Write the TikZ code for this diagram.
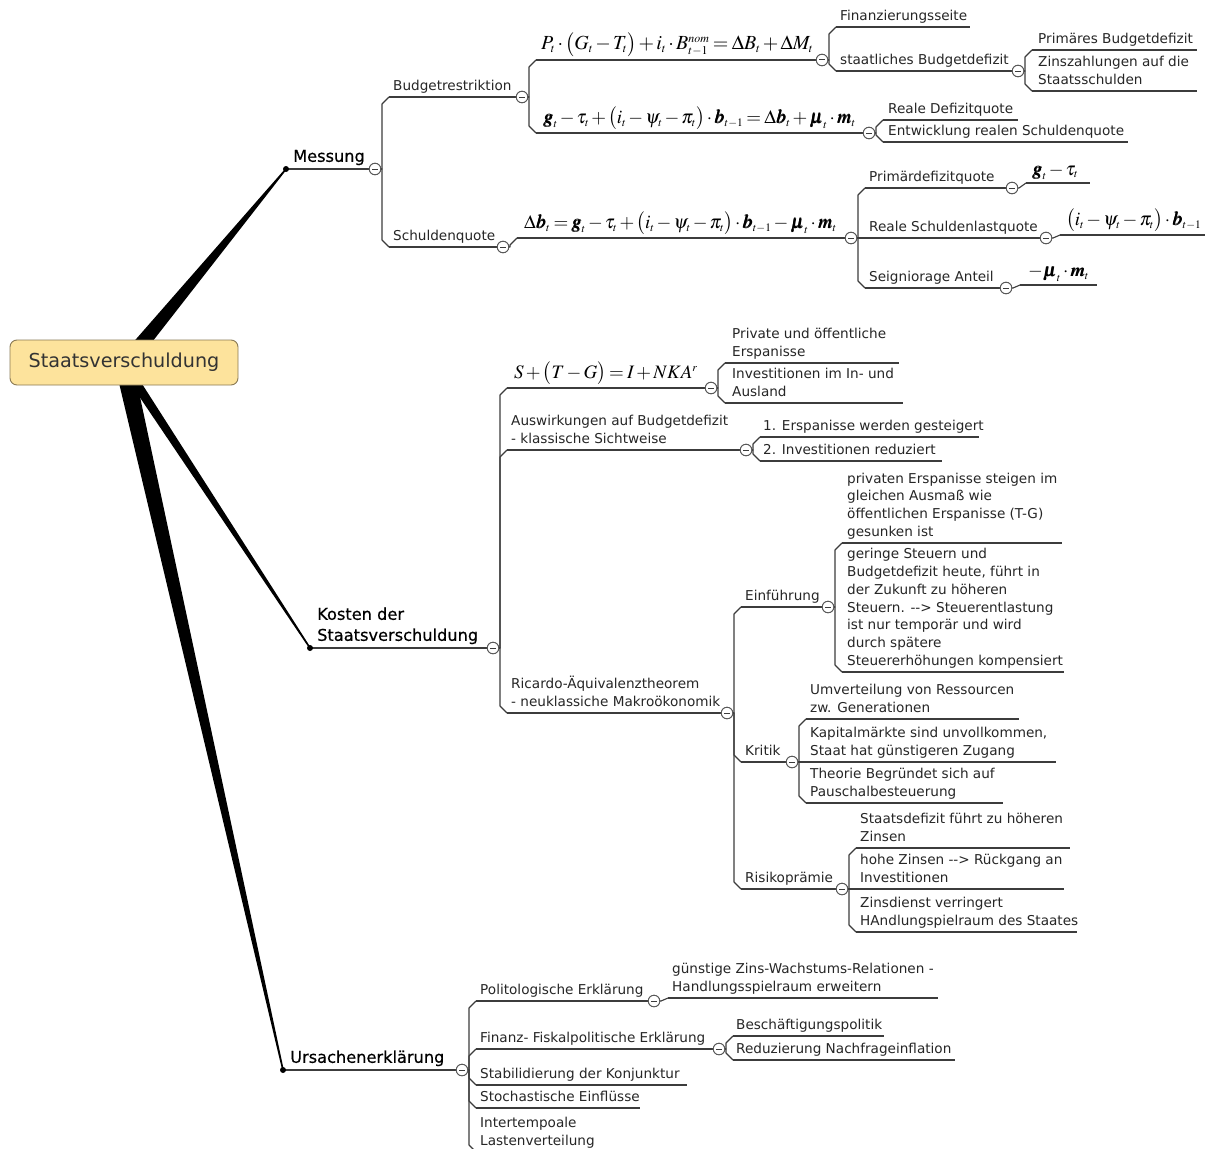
\documentclass[tikz,border=0pt]{standalone}
\usepackage{amsmath}
\usepackage{mathptmx}
\usepackage{bm}
\usepackage[no-math]{fontspec}
\setmainfont{DejaVu Sans}
\newfontfamily\bigfont[FakeBold=0.5]{DejaVu Sans}
\usetikzlibrary{calc}
\definecolor{ink}{HTML}{262626}
\definecolor{linec}{HTML}{3C3C3C}
\definecolor{rootfill}{HTML}{FDE39C}
\definecolor{rootdraw}{HTML}{8A7A55}
\newcommand\tightmath{\medmuskip=2mu\relax\thickmuskip=3mu\relax}
\tikzset{
 uline/.style={draw=linec, line width=1.1pt},
 conn/.style={draw=linec, line width=1.1pt, line join=round},
 txt/.style={font=\fontsize{13.6}{17.8}\selectfont, text=ink, inner sep=0pt, anchor=south west, align=left, text depth=3.3pt},
 bigtxt/.style={font=\bigfont\fontsize{16.2}{21}\selectfont, text=black, inner sep=0pt, anchor=south west, align=left, text depth=4pt},
 fml/.style={font={\fontsize{19}{19}\selectfont\tightmath}, text=black, inner sep=0pt, anchor=south west},
 fmlbig/.style={fml, font={\fontsize{20}{20}\selectfont\tightmath}},
 knob/.style={circle, draw=linec!85, fill=white, line width=0.9pt, minimum size=11.5pt, inner sep=0pt,
   path picture={\draw[linec, line width=1pt] ([xshift=-2.8pt]path picture bounding box.center) -- ([xshift=2.8pt]path picture bounding box.center);}},
 rootbox/.style={draw=rootdraw, fill=rootfill, rounded corners=7pt, line width=0.9pt, minimum width=228pt, minimum height=45pt, inner sep=0pt, font=\fontsize{19.2}{22}\selectfont, text=black!80},
}
\newcommand\ssub[1]{_{\scriptscriptstyle #1}}
\newcommand\topic[7][txt]{%
 \coordinate (#2-s) at (#3,#4);
 \coordinate (#2-e) at (#5,#4);
 \draw[uline] (#2-s) -- (#2-e);
 \node[#1] (#2) at (#6,#4-3) {#7};}
\newcommand\knob[1]{\path (#1-e) ++(6,0) node[knob] (#1-k) {};}
\newcommand\tlink[2]{\draw[conn] let \p1=(#1-k.east), \p2=(#2-s), \n1={\x2-7pt},
  \n2={min(7pt,abs(\y2-\y1))*sign(\y2-\y1)}, \n3={\y2-(\n2)} in
  (\p1) -- (\n1,\y1) -- (\n1,\n3) -- (\p2);}
\newcommand\wedgeto[3]{\fill[black] let \p1=(#1), \p2=(#2), \n1={atan2(\y2-\y1,\x2-\x1)} in
  ($(\p1)+(\n1+90:#3)$) -- ($(\p2)+(\n1+90:0.8pt)$) -- ($(\p2)+(\n1-90:0.8pt)$) -- ($(\p1)+(\n1-90:#3)$) -- cycle;}

\begin{document}
\begin{tikzpicture}[x=1pt,y=-1pt]
\fill[white] (0,0) rectangle (1209,1148);
\useasboundingbox (0,0) rectangle (1209,1148);

% ---------- Messung ----------
\topic[bigtxt]{mess}{286}{169}{369}{293}{Messung}\knob{mess}
\topic{bud}{389}{97}{516}{393}{Budgetrestriktion}\knob{bud}
\topic{sq}{389}{247}{497}{393}{Schuldenquote}\knob{sq}
\topic[fmlbig]{f1}{536}{60}{816}{541}{$P\ssub{t}\cdot\bigl(G\ssub{t}-T\ssub{t}\bigr)+i\ssub{t}\cdot B^{\scriptscriptstyle nom}_{\scriptscriptstyle t-1}=\Delta B\ssub{t}+\Delta M\ssub{t}$}\knob{f1}
\topic[fml]{f2}{536}{133}{863}{543}{$\bm{g}\ssub{t}-\tau\ssub{t}+\bigl(i\ssub{t}-\psi\ssub{t}-\pi\ssub{t}\bigr)\cdot\bm{b}\ssub{t-1}=\Delta\bm{b}\ssub{t}+\bm{\mu}\ssub{t}\cdot\bm{m}\ssub{t}$}\knob{f2}
\topic{fin}{836}{27}{970}{840}{Finanzierungsseite}
\topic{sbd}{836}{71}{1012}{840}{staatliches Budgetdefizit}\knob{sbd}
\topic{prim}{1032}{50}{1197}{1038}{Primäres Budgetdefizit}
\topic{zins}{1032}{91}{1197}{1038}{Zinszahlungen auf die\\Staatsschulden}
\topic{rdq}{883}{120}{1018}{888}{Reale Defizitquote}
\topic{ers}{883}{142}{1128}{888}{Entwicklung realen Schuldenquote}
\topic[fml]{f3}{517}{238}{845}{524}{$\Delta\bm{b}\ssub{t}=\bm{g}\ssub{t}-\tau\ssub{t}+\bigl(i\ssub{t}-\psi\ssub{t}-\pi\ssub{t}\bigr)\cdot\bm{b}\ssub{t-1}-\bm{\mu}\ssub{t}\cdot\bm{m}\ssub{t}$}\knob{f3}
\topic{pdq}{865}{188}{1006}{869}{Primärdefizitquote}\knob{pdq}
\topic{rsq}{865}{238}{1040}{869}{Reale Schuldenlastquote}\knob{rsq}
\topic{seig}{865}{288}{1000}{869}{Seigniorage Anteil}\knob{seig}
\topic[fml]{f4}{1026}{183}{1090}{1032}{$\bm{g}\ssub{t}-\tau\ssub{t}$}
\topic[fml]{f5}{1060}{235}{1205}{1066}{$\bigl(i\ssub{t}-\psi\ssub{t}-\pi\ssub{t}\bigr)\cdot\bm{b}\ssub{t-1}$}
\topic[fml]{f6}{1020}{285}{1097}{1028}{$-\bm{\mu}\ssub{t}\cdot\bm{m}\ssub{t}$}

% ---------- Kosten ----------
\topic[bigtxt]{kos}{310}{648}{487}{317}{Kosten der\\Staatsverschuldung}\knob{kos}
\topic[fml]{f7}{507}{388}{705}{514}{$S+\bigl(T-G\bigr)=I+NKA^{\scriptscriptstyle r}$}\knob{f7}
\topic{ausw}{507}{450}{740}{511}{Auswirkungen auf Budgetdefizit\\- klassische Sichtweise}\knob{ausw}
\topic{ric}{507}{713}{721}{511}{Ricardo-Äquivalenztheorem\\- neuklassiche Makroökonomik}\knob{ric}
\topic{priv}{725}{363}{899}{732}{Private und öffentliche\\Erspanisse}
\topic{inv}{725}{403}{903}{732}{Investitionen im In- und\\Ausland}
\topic{ea}{760}{437}{979}{763}{1. Erspanisse werden gesteigert}
\topic{eb}{760}{461}{942}{763}{2. Investitionen reduziert}
\topic{einf}{741}{607}{822}{745}{Einführung}\knob{einf}
\topic{krit}{741}{762}{786}{745}{Kritik}\knob{krit}
\topic{risk}{741}{889}{836}{745}{Risikoprämie}\knob{risk}
\topic{pe}{842}{543}{1062}{847}{privaten Erspanisse steigen im\\gleichen Ausmaß wie\\öffentlichen Erspanisse (T-G)\\gesunken ist}
\topic{gs}{842}{672}{1064}{847}{geringe Steuern und\\Budgetdefizit heute, führt in\\der Zukunft zu höheren\\Steuern. -{}-{}> Steuerentlastung\\ist nur temporär und wird\\durch spätere\\Steuererhöhungen kompensiert}
\topic{umv}{806}{719}{1019}{810}{Umverteilung von Ressourcen\\zw. Generationen}
\topic{kap}{806}{762}{1056}{810}{Kapitalmärkte sind unvollkommen,\\Staat hat günstigeren Zugang}
\topic{theo}{806}{803}{1003}{810}{Theorie Begründet sich auf\\Pauschalbesteuerung}
\topic{sd}{856}{848}{1070}{860}{Staatsdefizit führt zu höheren\\Zinsen}
\topic{hz}{856}{889}{1064}{860}{hohe Zinsen -{}-{}> Rückgang an\\Investitionen}
\topic{zd}{856}{932}{1077}{860}{Zinsdienst verringert\\HAndlungspielraum des Staates}

% ---------- Ursachen ----------
\topic[bigtxt]{urs}{283}{1070}{456}{290}{Ursachenerklärung}\knob{urs}
\topic{pol}{476}{1001}{648}{480}{Politologische Erklärung}\knob{pol}
\topic{fin2}{476}{1049}{713}{480}{Finanz- Fiskalpolitische Erklärung}\knob{fin2}
\topic{stab}{476}{1085}{687}{480}{Stabilidierung der Konjunktur}
\topic{stoch}{476}{1108}{640}{480}{Stochastische Einflüsse}
\topic{inter}{476}{1152}{600}{480}{Intertempoale\\Lastenverteilung}
\topic{gz}{668}{998}{938}{672}{günstige Zins-Wachstums-Relationen -\\Handlungsspielraum erweitern}
\topic{besch}{733}{1036}{884}{736}{Beschäftigungspolitik}
\topic{red}{733}{1060}{955}{736}{Reduzierung Nachfrageinflation}

% ---------- connectors ----------
\tlink{mess}{bud}\tlink{mess}{sq}
\tlink{bud}{f1}\tlink{bud}{f2}
\tlink{f1}{fin}\tlink{f1}{sbd}
\tlink{sbd}{prim}\tlink{sbd}{zins}
\tlink{f2}{rdq}\tlink{f2}{ers}
\tlink{sq}{f3}
\tlink{f3}{pdq}\tlink{f3}{rsq}\tlink{f3}{seig}
\tlink{pdq}{f4}\tlink{rsq}{f5}\tlink{seig}{f6}
\tlink{kos}{f7}\tlink{kos}{ausw}\tlink{kos}{ric}
\tlink{f7}{priv}\tlink{f7}{inv}
\tlink{ausw}{ea}\tlink{ausw}{eb}
\tlink{ric}{einf}\tlink{ric}{krit}\tlink{ric}{risk}
\tlink{einf}{pe}\tlink{einf}{gs}
\tlink{krit}{umv}\tlink{krit}{kap}\tlink{krit}{theo}
\tlink{risk}{sd}\tlink{risk}{hz}\tlink{risk}{zd}
\tlink{urs}{pol}\tlink{urs}{fin2}\tlink{urs}{stab}\tlink{urs}{stoch}\tlink{urs}{inter}
\tlink{pol}{gz}
\tlink{fin2}{besch}\tlink{fin2}{red}

% redraw knobs on top
\foreach \k in {mess,bud,sq,f1,f2,sbd,f3,pdq,rsq,seig,kos,f7,ausw,ric,einf,krit,risk,urs,pol,fin2}{
  \path (\k-e) ++(6,0) node[knob] {};}

% ---------- root and main branches ----------
\coordinate (hub) at (124,365);
\wedgeto{hub}{mess-s}{8pt}
\wedgeto{hub}{kos-s}{5pt}
\wedgeto{hub}{urs-s}{9pt}
\fill[black] (mess-s) circle (3pt) (kos-s) circle (3pt) (urs-s) circle (3pt);
\node[rootbox] (root) at (124,362.5) {Staatsverschuldung};
\end{tikzpicture}
\end{document}
